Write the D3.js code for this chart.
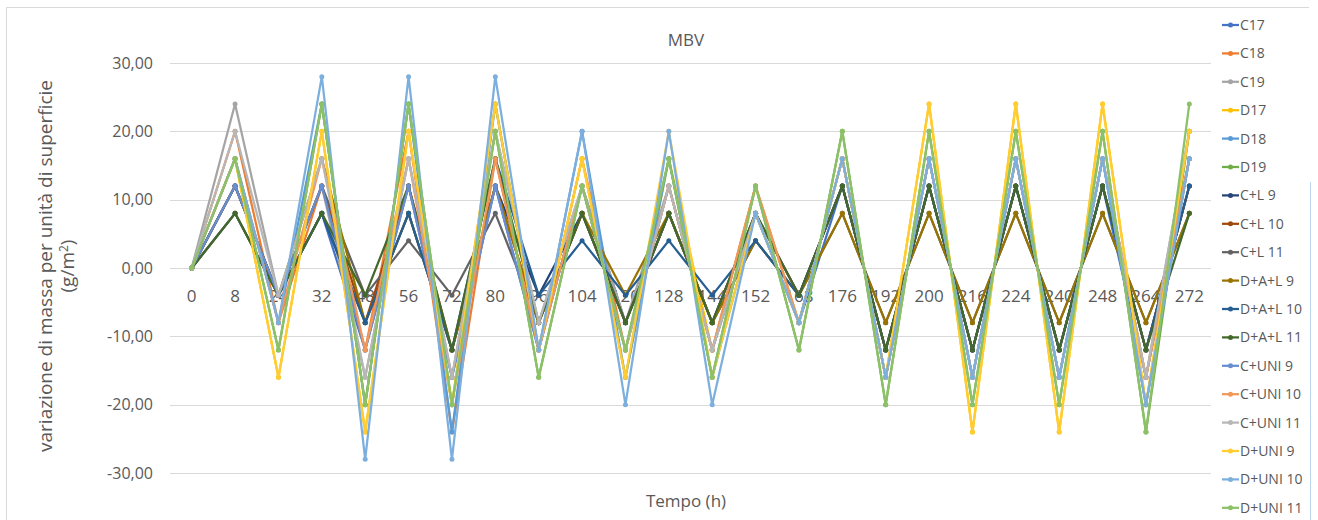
<!DOCTYPE html>
<html>
<head>
<meta charset="utf-8">
<script src="https://cdn.jsdelivr.net/npm/d3@7"></script>
<style>
  html, body { margin: 0; padding: 0; background: #fff; }
  svg { display: block; font-family: "Open Sans", "Liberation Sans", sans-serif; }
</style>
</head>
<body>
<svg id="chart" width="1318" height="520"></svg>
<script>
// Time points (h)
const categories = ["0","8","24","32","48","56","72","80","96","104","120","128","144","152","168","176","192","200","216","224","240","248","264","272"];

// Series names, in legend order
const seriesNames = ["C17","C18","C19","D17","D18","D19","C+L 9","C+L 10","C+L 11","D+A+L 9","D+A+L 10","D+A+L 11","C+UNI 9","C+UNI 10","C+UNI 11","D+UNI 9","D+UNI 10","D+UNI 11"];

// Mass variation per unit surface (g/m²)
const C17     = [0, 12, -4,  8, -12, 12, -16, 12, -12, 12,  -8,  8,  -8,  8, -8, 12, -12, 12, -12, 12, -12, 12, -16, 16];
const C18     = [0, 20, -8, 12, -12, 20, -24, 16, -12, 16, -12, 12, -12, 12, -8, 16, -16, 16, -16, 16, -16, 16, -16, 16];
const C19     = [0, 24, -4, 12, -16, 16, -16, 20,  -8, 12,  -8, 12, -12,  8, -8, 16, -16, 16, -16, 16, -16, 16, -16, 20];
const D17     = [0, 16,-16, 20, -24, 20, -20, 24, -12, 16, -16, 16, -12,  8, -8, 16, -16, 24, -24, 24, -24, 24, -20, 20];
const D18     = [0, 16, -8, 24, -20, 24, -24, 24, -12, 20, -16, 16, -16,  8, -8, 16, -16, 16, -16, 16, -16, 16, -20, 16];
const D19     = [0, 16,-12, 24, -20, 24, -20, 20, -16, 12, -12, 16, -16, 12,-12, 20, -20, 20, -20, 20, -20, 20, -24, 20];
const CL9     = [0, 12, -4,  8,  -8,  8, -12, 12,  -4,  8,  -8,  8,  -8,  4, -4, 12, -12, 12, -12, 12, -12, 12, -12, 12];
const CL10    = [0, 12, -4, 12,  -8, 12, -12, 12,  -8,  8,  -8,  8,  -8,  8, -4, 12, -12, 12, -12, 12, -12, 12, -12, 12];
const CL11    = [0, 12, -4, 12,  -4,  4,  -4,  8,  -8,  8,  -8,  8,  -8,  8, -4,  8,  -8,  8,  -8,  8,  -8,  8,  -8,  8];
const DAL9    = [0,  8, -4, 16,  -8,  8, -12, 12,  -8,  8,  -4,  8,  -8,  4, -4,  8,  -8,  8,  -8,  8,  -8,  8,  -8,  8];
const DAL10   = [0,  8, -4,  8,  -8,  8, -12, 16,  -4,  4,  -4,  4,  -4,  4, -4, 12, -12, 12, -12, 12, -12, 12, -12, 12];
const DAL11   = [0,  8, -4,  8,  -4, 12, -12, 16,  -8,  8,  -8,  8,  -8,  8, -4, 12, -12, 12, -12, 12, -12, 12, -12,  8];
const CUNI9   = [0, 12, -4, 12, -12, 12, -16, 12, -12, 12, -12, 12, -12,  8, -8, 16, -16, 16, -16, 16, -16, 16, -20, 16];
const CUNI10  = [0, 16, -8, 16, -12, 16, -20, 16, -12, 12, -12, 12, -12, 12, -8, 16, -16, 16, -16, 16, -16, 16, -16, 16];
const CUNI11  = [0, 20, -4, 16, -16, 16, -16, 20,  -8, 12, -12, 12, -12,  8, -8, 16, -16, 16, -16, 16, -16, 16, -16, 20];
const DUNI9   = [0, 16,-16, 20, -24, 20, -20, 24, -12, 16, -16, 20, -16,  8, -8, 16, -16, 24, -24, 24, -24, 24, -20, 20];
const DUNI10  = [0, 16, -8, 28, -28, 28, -28, 28, -12, 20, -20, 20, -20,  8, -8, 16, -16, 16, -16, 16, -16, 16, -20, 16];
const DUNI11  = [0, 16,-12, 24, -20, 24, -20, 20, -16, 12, -12, 16, -16, 12,-12, 20, -20, 20, -20, 20, -20, 20, -24, 24];

const seriesValues = [C17, C18, C19, D17, D18, D19, CL9, CL10, CL11, DAL9, DAL10, DAL11, CUNI9, CUNI10, CUNI11, DUNI9, DUNI10, DUNI11];

const colors = ["#4472C4","#ED7D31","#A5A5A5","#FFC000","#5B9BD5","#70AD47","#264478","#9E480E","#636363","#997300","#255E91","#43682B","#698ED0","#F1975A","#B7B7B7","#FFCD33","#7CAFDD","#8CC168"];

const yTicks = [-30, -20, -10, 0, 10, 20, 30];

const series = seriesNames.map((name, i) => ({ name, values: seriesValues[i], color: colors[i] }));

const svg = d3.select("#chart");
const textColor = "#595959";

// Chart frame
svg.append("path")
  .attr("d", "M6.5,520 V7.5 H1309")
  .attr("fill", "none").attr("stroke", "#D9D9D9").attr("stroke-width", 1);
svg.append("line")
  .attr("x1", 1310.5).attr("x2", 1310.5).attr("y1", 182).attr("y2", 520)
  .attr("stroke", "#BDD7EE").attr("stroke-width", 1);

const x = d3.scaleBand().domain(categories).range([170, 1211]).padding(0);
const xc = c => x(c) + x.bandwidth() / 2;
const y = d3.scaleLinear().domain([-30, 30]).range([473, 63]);

// Gridlines
svg.append("g").selectAll("line").data(yTicks).join("line")
  .attr("x1", 170).attr("x2", 1211)
  .attr("y1", d => Math.round(y(d)) + 0.5).attr("y2", d => Math.round(y(d)) + 0.5)
  .attr("stroke", "#D9D9D9").attr("stroke-width", 1);

// Y axis tick labels
const fmt = d => d3.format(".2f")(d).replace(".", ",").replace("−", "-");
const yAxis = d3.axisLeft(y).tickValues(yTicks).tickFormat(fmt).tickSize(0).tickPadding(0);
const gy = svg.append("g").attr("transform", "translate(153,0)").call(yAxis);
gy.select(".domain").remove();
gy.selectAll("text").attr("fill", textColor).attr("font-size", 16)
  .attr("font-family", "'Open Sans', sans-serif");

// X axis category labels, sitting just under the zero line
const xAxis = d3.axisBottom(x).tickSize(0).tickPadding(0);
const gx = svg.append("g").attr("transform", `translate(0,${y(0) + 22})`).call(xAxis);
gx.select(".domain").remove();
gx.selectAll("text").attr("fill", textColor).attr("font-size", 17)
  .attr("font-family", "'Open Sans', sans-serif");

// Lines and markers
const line = d3.line().x((d, i) => xc(categories[i])).y(d => y(d));
const gs = svg.append("g").selectAll("g").data(series).join("g");
gs.append("path")
  .attr("d", d => line(d.values))
  .attr("fill", "none").attr("stroke", d => d.color).attr("stroke-width", 2.25)
  .attr("stroke-linejoin", "round");
gs.selectAll("circle").data(d => d.values.map((v, i) => ({ v, i, color: d.color }))).join("circle")
  .attr("cx", d => xc(categories[d.i])).attr("cy", d => y(d.v)).attr("r", 2.5)
  .attr("fill", d => d.color);

// Title
svg.append("text").attr("x", 686).attr("y", 46).attr("text-anchor", "middle")
  .attr("fill", textColor).attr("font-size", 17).text("MBV");

// Axis titles
svg.append("text").attr("x", 686).attr("y", 507).attr("text-anchor", "middle")
  .attr("fill", textColor).attr("font-size", 17).text("Tempo (h)");

const yt = svg.append("text").attr("transform", "translate(45,266) rotate(-90)")
  .attr("text-anchor", "middle").attr("fill", textColor).attr("font-size", 19);
yt.append("tspan").attr("x", 0).attr("dy", "0.35em").text("variazione di massa per unità di superficie");
const yt2 = yt.append("tspan").attr("x", 0).attr("dy", "1.2em");
yt2.append("tspan").text("(g/m");
yt2.append("tspan").attr("font-size", 12).attr("dy", "-0.5em").text("2");
yt2.append("tspan").attr("dy", "0.3em").text(")");

// Legend
const legend = svg.append("g").selectAll("g").data(series).join("g")
  .attr("transform", (d, i) => `translate(1222,${25 + i * 28.4})`);
legend.append("line").attr("x1", 0).attr("x2", 17).attr("y1", 0).attr("y2", 0)
  .attr("stroke", d => d.color).attr("stroke-width", 2.25);
legend.append("circle").attr("cx", 8.5).attr("cy", 0).attr("r", 2.5).attr("fill", d => d.color);
legend.append("text").attr("x", 18).attr("y", 0).attr("dy", "0.35em")
  .attr("fill", textColor).attr("font-size", 14).text(d => d.name);
</script>
</body>
</html>
